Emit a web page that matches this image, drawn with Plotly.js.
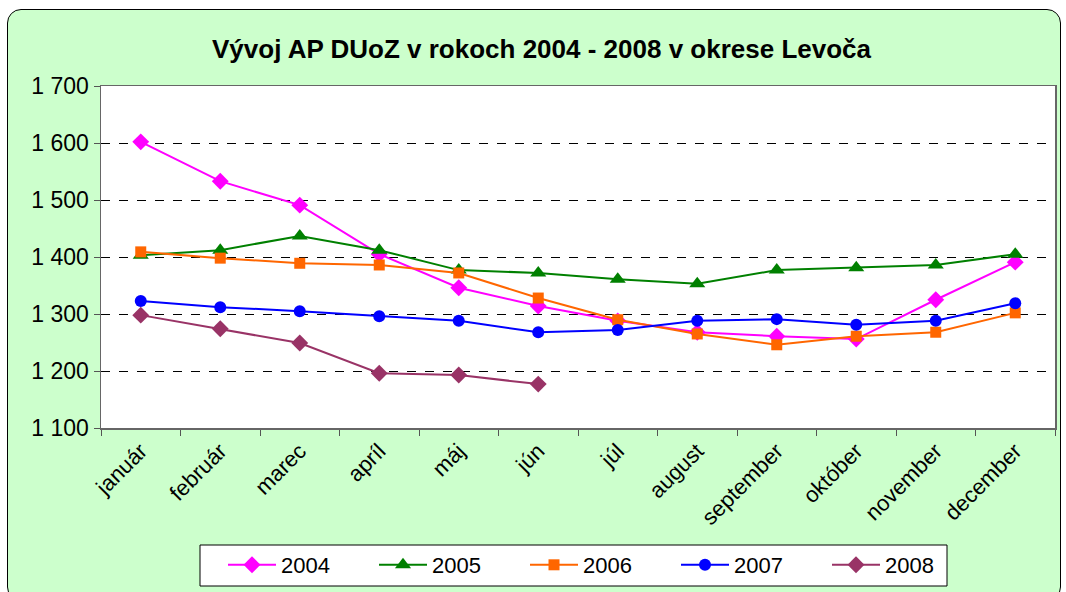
<!DOCTYPE html>
<html><head><meta charset="utf-8">
<script src="https://cdn.plot.ly/plotly-3.0.1.min.js"></script>
<style>
html,body{margin:0;padding:0;background:#fff;width:1066px;height:592px;overflow:hidden;}
#frame{position:absolute;left:7px;top:9px;width:1052px;height:590px;background:#CCFFCC;border:1.5px solid #000;border-radius:14px;}
#chart{position:absolute;left:0;top:0;width:1066px;height:592px;}
</style></head><body>
<div id="frame"></div>
<div id="chart"></div>
<script>
const months = ["január","február","marec","apríl","máj","jún","júl","august","september","október","november","december"];
const y2004 = [1602,1533,1491,1405,1346,1314,1288,1268,1261,1256,1325,1391];
const y2005 = [1403,1412,1437,1412,1377,1372,1361,1353,1377,1381,1386,1405];
const y2006 = [1409,1398,1389,1386,1372,1328,1290,1265,1246,1261,1268,1302];
const y2007 = [1323,1312,1305,1296,1288,1268,1272,1288,1291,1281,1288,1319];
const y2008 = [1298,1274,1249,1196,1193,1177];
const seriesNames = ["2004","2005","2006","2007","2008"];

function tr(name, y, color, symbol, size){
  return {x: months.slice(0,y.length), y: y, name: name, type:'scatter', mode:'lines+markers',
    line:{color:color,width:2}, marker:{symbol:symbol,size:size,color:color}};
}
const data = [
  tr(seriesNames[0], y2004, '#FF00FF', 'diamond', 13),
  tr(seriesNames[1], y2005, '#008000', 'triangle-up', 14),
  tr(seriesNames[2], y2006, '#FF6600', 'square', 11),
  tr(seriesNames[3], y2007, '#0000FF', 'circle', 12),
  tr(seriesNames[4], y2008, '#993366', 'diamond', 13)
];
const layout = {
  width:1066, height:592,
  paper_bgcolor:'rgba(0,0,0,0)', plot_bgcolor:'#FFFFFF',
  margin:{l:101,r:11,t:86,b:164},
  separators:'. ',
  font:{family:'Arial, "Liberation Sans", sans-serif', color:'#000', size:21},
  title:{text:'<b>Vývoj AP DUoZ v rokoch 2004 - 2008 v okrese Levoča</b>', x:0.508, xanchor:'center', xref:'container', y:0.918, yref:'container', yanchor:'middle', font:{size:26}},
  xaxis:{type:'category', tickangle:-45, tickson:'boundaries', ticks:'outside', ticklen:6, tickcolor:'#555',
    showline:true, linecolor:'#666', linewidth:1.5, mirror:true, showgrid:false, tickfont:{size:22}, range:[-0.5,11.5], automargin:false},
  yaxis:{range:[1100,1700], dtick:100, tickformat:',d', ticks:'outside', ticklen:6, tickcolor:'#555',
    showline:true, linecolor:'#666', linewidth:1.5, mirror:true, gridcolor:'#000', griddash:'dash', gridwidth:1,
    tickfont:{size:23}, zeroline:false, automargin:false},
  shapes:[{type:'rect', xref:'paper', yref:'paper', x0:(200-101)/954, x1:(947-101)/954, y0:(428-586)/342, y1:(428-545)/342,
    line:{color:'#000', width:1}, fillcolor:'#FFFFFF', layer:'below'}],
  showlegend:true,
  legend:{orientation:'h', xref:'container', yref:'container', x:223/1066, xanchor:'left', y:(592-565)/592, yanchor:'middle',
    bgcolor:'rgba(0,0,0,0)', borderwidth:0, font:{size:22}, entrywidth:88, itemwidth:48}
};
Plotly.newPlot('chart', data, layout, {displayModeBar:false, staticPlot:true});
</script></body></html>
